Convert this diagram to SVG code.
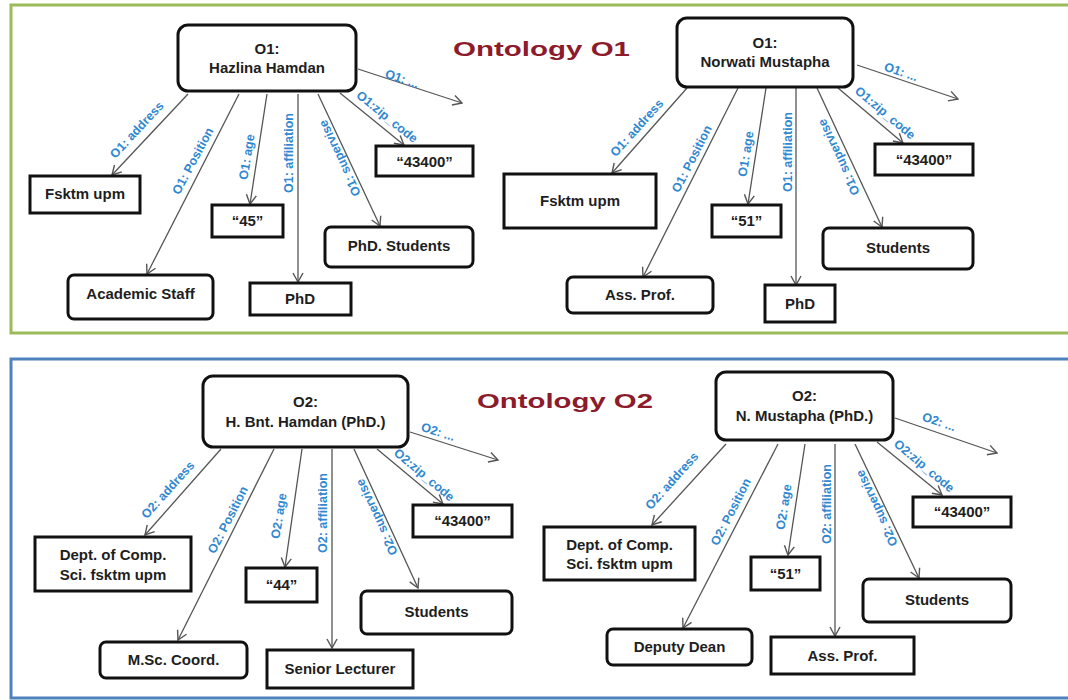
<svg xmlns="http://www.w3.org/2000/svg" width="1068" height="700" viewBox="0 0 1068 700">
<style>
.frame{fill:#fff;stroke-width:3}
.node rect{fill:#fff;stroke:#111;stroke-width:3}
.nt{font-family:"Liberation Sans",Arial,sans-serif;font-weight:bold;font-size:15px;fill:#1e1e1e;text-anchor:middle}
.lbl{font-family:"Liberation Sans",Arial,sans-serif;font-weight:bold;font-size:12.5px;fill:#2f88d0;text-anchor:middle;dominant-baseline:central}
.edge{stroke:#555;stroke-width:1.3;fill:none;marker-end:url(#arr)}
.title{font-family:"Liberation Sans",Arial,sans-serif;font-weight:bold;font-size:21px;fill:#8c1c2c}
</style>
<defs>
<marker id="arr" markerUnits="userSpaceOnUse" markerWidth="12" markerHeight="12" viewBox="0 0 12 12" refX="10.5" refY="6" orient="auto">
<path d="M1.5,1 L10.5,6 L1.5,11" fill="none" stroke="#555" stroke-width="1.4"/>
</marker>
</defs>
<rect x="0" y="0" width="1068" height="700" fill="#fff"/>
<rect class="frame" x="11" y="5" width="1070" height="328" stroke="#9bbb59"/>
<rect class="frame" x="11" y="359" width="1070" height="339" stroke="#4f81bd"/>
<text class="title" x="453" y="56" textLength="177" lengthAdjust="spacingAndGlyphs">Ontology O1</text>
<text class="title" x="477" y="408" textLength="176" lengthAdjust="spacingAndGlyphs">Ontology O2</text>

<g id="connectors">
<path class="edge" d="M188,94 L112,175"/>
<path class="edge" d="M239,94 L147,274"/>
<path class="edge" d="M267,94 L250,204"/>
<path class="edge" d="M298,94 L298,282"/>
<path class="edge" d="M318,94 L380,226"/>
<path class="edge" d="M340,93 L404,145"/>
<path class="edge" d="M358,69 L462,103"/>
<path class="edge" d="M687,88 L612,173"/>
<path class="edge" d="M738,88 L643,277"/>
<path class="edge" d="M766,88 L748,204"/>
<path class="edge" d="M796,88 L796,285"/>
<path class="edge" d="M817,88 L882,227"/>
<path class="edge" d="M838,88 L903,143"/>
<path class="edge" d="M857,65 L958,99"/>
<path class="edge" d="M221,449 L145,535"/>
<path class="edge" d="M274,449 L178,640"/>
<path class="edge" d="M302,449 L285,567"/>
<path class="edge" d="M332,449 L332,648"/>
<path class="edge" d="M354,449 L418,588"/>
<path class="edge" d="M377,449 L443,504"/>
<path class="edge" d="M410,432 L498,460"/>
<path class="edge" d="M726,444 L652,525"/>
<path class="edge" d="M778,444 L683,628"/>
<path class="edge" d="M805,444 L788,555"/>
<path class="edge" d="M835,444 L835,636"/>
<path class="edge" d="M855,444 L919,578"/>
<path class="edge" d="M877,442 L942,495"/>
<path class="edge" d="M895,418 L997,453"/>
<text class="lbl" transform="translate(137,130) rotate(-47)">O1: address</text>
<text class="lbl" transform="translate(193,161) rotate(-62)">O1: Position</text>
<text class="lbl" transform="translate(247,157) rotate(-81)">O1: age</text>
<text class="lbl" transform="translate(289,153) rotate(-90)">O1: affiliation</text>
<text class="lbl" transform="translate(340,158) rotate(-115)">O1: supervise</text>
<text class="lbl" transform="translate(387,117) rotate(39)">O1:zip_code</text>
<text class="lbl" transform="translate(402,79) rotate(19)">O1: ...</text>
<text class="lbl" transform="translate(637,128) rotate(-48)">O1: address</text>
<text class="lbl" transform="translate(692,159) rotate(-63)">O1: Position</text>
<text class="lbl" transform="translate(746,154) rotate(-81)">O1: age</text>
<text class="lbl" transform="translate(788,152) rotate(-90)">O1: affiliation</text>
<text class="lbl" transform="translate(839,157) rotate(-115)">O1: supervise</text>
<text class="lbl" transform="translate(885,113) rotate(40)">O1:zip_code</text>
<text class="lbl" transform="translate(901,72) rotate(19)">O1: ...</text>
<text class="lbl" transform="translate(168,490) rotate(-48)">O2: address</text>
<text class="lbl" transform="translate(228,520) rotate(-63)">O2: Position</text>
<text class="lbl" transform="translate(279,516) rotate(-81)">O2: age</text>
<text class="lbl" transform="translate(323,513) rotate(-90)">O2: affiliation</text>
<text class="lbl" transform="translate(377,517) rotate(-115)">O2: supervise</text>
<text class="lbl" transform="translate(424,475) rotate(40)">O2:zip_code</text>
<text class="lbl" transform="translate(438,432) rotate(18)">O2: ...</text>
<text class="lbl" transform="translate(672,481) rotate(-48)">O2: address</text>
<text class="lbl" transform="translate(731,512) rotate(-63)">O2: Position</text>
<text class="lbl" transform="translate(784,507) rotate(-81)">O2: age</text>
<text class="lbl" transform="translate(827,504) rotate(-90)">O2: affiliation</text>
<text class="lbl" transform="translate(877,508) rotate(-115)">O2: supervise</text>
<text class="lbl" transform="translate(924,466) rotate(40)">O2:zip_code</text>
<text class="lbl" transform="translate(939,422) rotate(19)">O2: ...</text>
</g>

<g id="o1-hazlina" class="node"><rect x="178" y="25" width="178" height="66" rx="10"/><text class="nt" x="267" y="53.5">O1:</text><text class="nt" x="267" y="72.5">Hazlina Hamdan</text></g>
<g id="o1-h-address" class="node"><rect x="30" y="176" width="110" height="37"/><text class="nt" x="85" y="199">Fsktm upm</text></g>
<g id="o1-h-position" class="node"><rect x="68" y="275" width="145" height="44" rx="6"/><text class="nt" x="140.5" y="299">Academic Staff</text></g>
<g id="o1-h-age" class="node"><rect x="212" y="205" width="71" height="32"/><text class="nt" x="247.5" y="226">“45”</text></g>
<g id="o1-h-affiliation" class="node"><rect x="250" y="283" width="101" height="32"/><text class="nt" x="300" y="304">PhD</text></g>
<g id="o1-h-supervise" class="node"><rect x="325" y="227" width="148" height="40" rx="6"/><text class="nt" x="399" y="251">PhD. Students</text></g>
<g id="o1-h-zip" class="node"><rect x="376" y="146" width="97" height="30"/><text class="nt" x="424.5" y="166.5">“43400”</text></g>

<g id="o1-norwati" class="node"><rect x="677" y="18" width="176" height="69" rx="10"/><text class="nt" x="765" y="48">O1:</text><text class="nt" x="765" y="67">Norwati Mustapha</text></g>
<g id="o1-n-address" class="node"><rect x="504" y="174" width="152" height="54"/><text class="nt" x="580" y="206">Fsktm upm</text></g>
<g id="o1-n-position" class="node"><rect x="567" y="277" width="146" height="36" rx="6"/><text class="nt" x="640" y="300">Ass. Prof.</text></g>
<g id="o1-n-age" class="node"><rect x="712" y="205" width="69" height="32"/><text class="nt" x="746.5" y="226">“51”</text></g>
<g id="o1-n-affiliation" class="node"><rect x="765" y="285" width="70" height="37"/><text class="nt" x="800" y="308.5">PhD</text></g>
<g id="o1-n-supervise" class="node"><rect x="823" y="228" width="150" height="41" rx="6"/><text class="nt" x="898" y="253">Students</text></g>
<g id="o1-n-zip" class="node"><rect x="875" y="144" width="98" height="31"/><text class="nt" x="924" y="165">“43400”</text></g>

<g id="o2-hamdan" class="node"><rect x="203" y="376" width="205" height="71" rx="10"/><text class="nt" x="305.5" y="407">O2:</text><text class="nt" x="305.5" y="427">H. Bnt. Hamdan (PhD.)</text></g>
<g id="o2-h-address" class="node"><rect x="35" y="537" width="156" height="54"/><text class="nt" x="113" y="560">Dept. of Comp.</text><text class="nt" x="113" y="580">Sci. fsktm upm</text></g>
<g id="o2-h-position" class="node"><rect x="100" y="642" width="147" height="36" rx="6"/><text class="nt" x="173.5" y="665">M.Sc. Coord.</text></g>
<g id="o2-h-age" class="node"><rect x="246" y="568" width="71" height="34"/><text class="nt" x="281.5" y="590">“44”</text></g>
<g id="o2-h-affiliation" class="node"><rect x="267" y="650" width="146" height="38"/><text class="nt" x="340" y="674">Senior Lecturer</text></g>
<g id="o2-h-supervise" class="node"><rect x="361" y="591" width="151" height="43" rx="6"/><text class="nt" x="436.5" y="617">Students</text></g>
<g id="o2-h-zip" class="node"><rect x="413" y="505" width="99" height="32"/><text class="nt" x="462.5" y="526">“43400”</text></g>

<g id="o2-mustapha" class="node"><rect x="716" y="372" width="177" height="68" rx="10"/><text class="nt" x="804.5" y="400.5">O2:</text><text class="nt" x="804.5" y="420.5">N. Mustapha (PhD.)</text></g>
<g id="o2-m-address" class="node"><rect x="544" y="527" width="151" height="53"/><text class="nt" x="619.5" y="550">Dept. of Comp.</text><text class="nt" x="619.5" y="569">Sci. fsktm upm</text></g>
<g id="o2-m-position" class="node"><rect x="607" y="629" width="145" height="36" rx="6"/><text class="nt" x="679.5" y="652">Deputy Dean</text></g>
<g id="o2-m-age" class="node"><rect x="751" y="557" width="69" height="33"/><text class="nt" x="785.5" y="579">“51”</text></g>
<g id="o2-m-affiliation" class="node"><rect x="771" y="637" width="143" height="37"/><text class="nt" x="842.5" y="661">Ass. Prof.</text></g>
<g id="o2-m-supervise" class="node"><rect x="863" y="579" width="148" height="43" rx="6"/><text class="nt" x="937" y="605">Students</text></g>
<g id="o2-m-zip" class="node"><rect x="913" y="497" width="98" height="30"/><text class="nt" x="962" y="517">“43400”</text></g>
</svg>
